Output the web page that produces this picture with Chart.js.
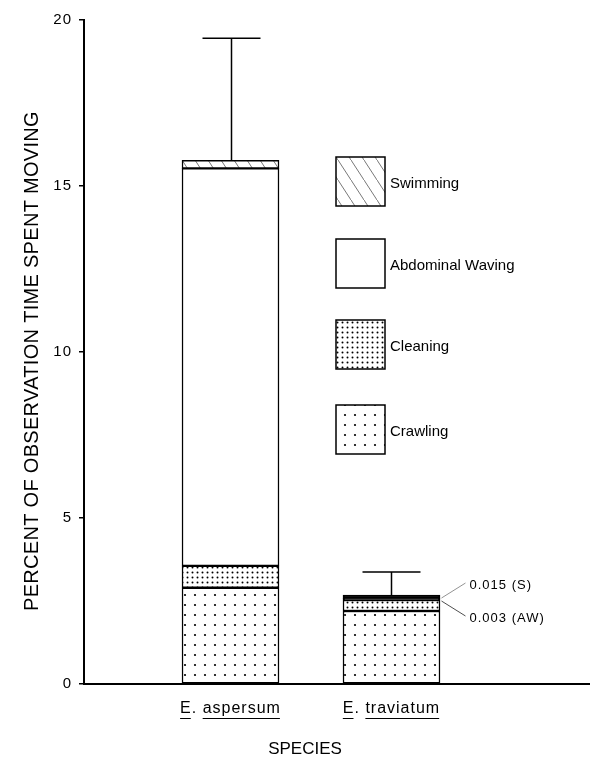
<!DOCTYPE html>
<html>
<head>
<meta charset="utf-8">
<script src="https://cdn.jsdelivr.net/npm/chart.js@4.4.0/dist/chart.umd.min.js"></script>
<style>
  body { margin: 0; background: #fff; }
</style>
</head>
<body>
<canvas id="moving" width="590" height="763"></canvas>
<script>
// values (percent of observation time)
var categories = ['E. aspersum', 'E. traviatum'];
var seriesNames = ['Crawling', 'Cleaning', 'Abdominal Waving', 'Swimming'];
var crawling = [2.90, 2.20];
var cleaning = [0.66, 0.33];
var abdominalWaving = [11.97, 0.05];
var swimming = [0.24, 0.10];
var errorTop = [19.45, 3.37];
var yTicks = [0, 5, 10, 15, 20];
var smallNotes = ['0.015 (S)', '0.003 (AW)'];

var canvas = document.getElementById('moving');
var ctx = canvas.getContext('2d');
var FONT = '"Liberation Sans", Arial, sans-serif';

function makePattern(w, h, draw) {
    var c = document.createElement('canvas');
    c.width = w;
    c.height = h;
    var g = c.getContext('2d');
    g.fillStyle = '#fff';
    g.fillRect(0, 0, w, h);
    draw(g);
    return ctx.createPattern(c, 'repeat');
}

// sparse dots
var crawlFill = makePattern(10, 10, function (g) {
    g.fillStyle = '#000';
    g.beginPath();
    g.arc(5, 5, 1.1, 0, Math.PI * 2);
    g.fill();
});
// dense dots
var cleanFill = makePattern(5, 5, function (g) {
    g.fillStyle = '#000';
    g.beginPath();
    g.arc(2.5, 2.5, 1.0, 0, Math.PI * 2);
    g.fill();
});
// thin diagonal hatching
var swimFill = makePattern(13, 20, function (g) {
    g.strokeStyle = '#555';
    g.lineWidth = 0.8;
    g.beginPath();
    g.moveTo(0, 0);
    g.lineTo(13, 20);
    g.stroke();
});

var legendFills = [crawlFill, cleanFill, '#fff', swimFill];

function makeSet(label, values, fills) {
    return {
        label: label,
        data: values.map(function (v, i) { return { x: i + 1, y: v }; }),
        backgroundColor: fills,
        borderColor: '#000',
        borderWidth: 1.5,
        borderSkipped: false,
        grouped: false,
        barThickness: 97
    };
}

var extras = {
    id: 'extras',
    beforeDraw: function (chart) {
        // the typeset labels are slightly letter-spaced
        chart.ctx.letterSpacing = '1px';
    },
    afterDatasetsDraw: function (chart) {
        var c = chart.ctx;
        var xs = chart.scales.x;
        var ys = chart.scales.y;
        c.save();
        c.strokeStyle = '#000';
        c.lineWidth = 1.5;
        // error bars
        categories.forEach(function (cat, i) {
            var total = crawling[i] + cleaning[i] + abdominalWaving[i] + swimming[i];
            var px = Math.round(xs.getPixelForValue(i + 1)) + 0.5;
            var y0 = ys.getPixelForValue(total);
            var y1 = ys.getPixelForValue(errorTop[i]);
            c.beginPath();
            c.moveTo(px, y0);
            c.lineTo(px, y1);
            c.moveTo(px - 29, y1);
            c.lineTo(px + 29, y1);
            c.stroke();
        });

        // notes for the tiny E. traviatum segments
        var bx = xs.getPixelForValue(2) + 50;
        var sTop = ys.getPixelForValue(crawling[1] + cleaning[1] + abdominalWaving[1] + swimming[1]);
        var awBot = ys.getPixelForValue(crawling[1] + cleaning[1]);
        c.lineWidth = 0.8;
        c.strokeStyle = '#777';
        c.beginPath();
        c.moveTo(bx, sTop + 3);
        c.lineTo(bx + 24, sTop - 12);
        c.stroke();
        c.strokeStyle = '#222';
        c.beginPath();
        c.moveTo(bx, awBot + 1);
        c.lineTo(bx + 24, awBot + 16);
        c.stroke();
        c.fillStyle = '#000';
        c.font = '13px ' + FONT;
        c.letterSpacing = '1px';
        c.textBaseline = 'middle';
        c.fillText(smallNotes[0], bx + 28, sTop - 10);
        c.fillText(smallNotes[1], bx + 28, awBot + 18);

        // legend boxes, top to bottom
        var tops = [157, 239, 320, 405];
        c.letterSpacing = '0px';
        for (var k = 0; k < 4; k++) {
            var s = 3 - k;
            c.fillStyle = legendFills[s];
            c.fillRect(336, tops[k], 49, 49);
            c.lineWidth = 1.5;
            c.strokeStyle = '#000';
            c.strokeRect(336, tops[k], 49, 49);
            c.fillStyle = '#000';
            c.font = '15px ' + FONT;
            c.fillText(seriesNames[s], 390, tops[k] + 27);
        }
        c.restore();
    },
    afterDraw: function (chart) {
        var c = chart.ctx;
        var xs = chart.scales.x;
        c.save();
        c.font = '16px ' + FONT;
        c.letterSpacing = '1px';
        c.strokeStyle = '#000';
        c.lineWidth = 1;
        // underline the species names
        xs.ticks.forEach(function (t) {
            var label = categories[t.value - 1];
            var px = xs.getPixelForValue(t.value);
            var left = px - c.measureText(label).width / 2;
            var parts = label.split(' ');
            var uy = 718.5;
            c.beginPath();
            c.moveTo(left, uy);
            c.lineTo(left + c.measureText(parts[0].replace('.', '')).width - 1, uy);
            var ws = left + c.measureText(parts[0] + ' ').width;
            c.moveTo(ws, uy);
            c.lineTo(ws + c.measureText(parts[1]).width - 1, uy);
            c.stroke();
        });
        // axis titles
        c.fillStyle = '#000';
        c.textAlign = 'center';
        c.textBaseline = 'middle';
        c.letterSpacing = '0px';
        c.font = '17px ' + FONT;
        c.fillText('SPECIES', 305, 749);
        c.translate(32, 361);
        c.rotate(-Math.PI / 2);
        c.letterSpacing = '0.3px';
        c.font = '20px ' + FONT;
        c.fillText('PERCENT OF OBSERVATION TIME SPENT MOVING', 0, 0);
        c.restore();
    }
};

var chart = new Chart(canvas, {
    type: 'bar',
    data: {
        datasets: [
            makeSet(seriesNames[0], crawling, crawlFill),
            makeSet(seriesNames[1], cleaning, cleanFill),
            makeSet(seriesNames[2], abdominalWaving, ['#fff', '#000']),
            makeSet(seriesNames[3], swimming, [swimFill, '#000'])
        ]
    },
    options: {
        responsive: false,
        devicePixelRatio: 1,
        animation: false,
        layout: { padding: { top: 20, right: 0, bottom: 0, left: 0 } },
        plugins: {
            legend: { display: false },
            tooltip: { enabled: false }
        },
        scales: {
            x: {
                type: 'linear',
                offset: false,
                bounds: 'data',
                min: 0.09,
                max: 3.233,
                afterFit: function (scale) { scale.height = 79; },
                afterBuildTicks: function (scale) {
                    scale.ticks = categories.map(function (c, i) { return { value: i + 1 }; });
                },
                grid: { display: false, drawTicks: false, offset: false },
                border: { display: true, color: '#000', width: 2 },
                ticks: {
                    autoSkip: false,
                    maxRotation: 0,
                    padding: 15,
                    color: '#000',
                    font: { size: 16, family: FONT },
                    callback: function (v) { return categories[v - 1]; }
                }
            },
            y: {
                stacked: true,
                min: 0,
                max: 20,
                afterFit: function (scale) { scale.width = 84; },
                afterBuildTicks: function (scale) {
                    scale.ticks = yTicks.map(function (v) { return { value: v }; });
                },
                grid: { drawOnChartArea: false, drawTicks: true, tickLength: 5, color: '#000', lineWidth: 1.5 },
                border: { display: true, color: '#000', width: 2 },
                ticks: {
                    padding: 7,
                    color: '#000',
                    font: { size: 15, family: FONT }
                }
            }
        }
    },
    plugins: [extras]
});
</script>
</body>
</html>
